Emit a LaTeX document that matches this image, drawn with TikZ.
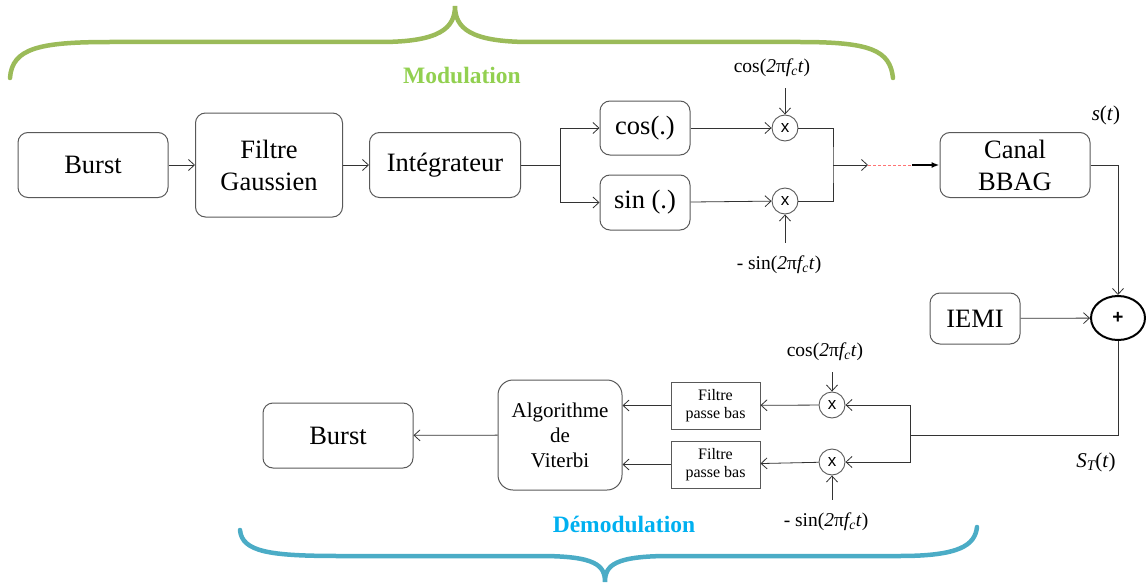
\documentclass[tikz,border=0pt]{standalone}
\usepackage{fontspec}
\setmainfont{Liberation Serif}
\newfontfamily\sansfont{Liberation Sans}
\usetikzlibrary{positioning, shapes.geometric, arrows.meta}
\definecolor{modgreen}{RGB}{146,208,80}
\definecolor{bracegreen}{RGB}{155,187,89}
\definecolor{demodblue}{RGB}{0,176,240}
\definecolor{braceblue}{RGB}{75,172,198}
\definecolor{boxgray}{RGB}{89,89,89}
\tikzstyle{block} = [rectangle, rounded corners=10pt, draw=boxgray, line width=1pt,
    align=center, font=\fontsize{26.5}{32}\selectfont]
\tikzstyle{lpfilter} = [rectangle, draw=boxgray, line width=1pt, minimum width=89pt,
    minimum height=47pt, align=center, font=\fontsize{16}{18}\selectfont]
\tikzstyle{mixer} = [circle, draw=boxgray, line width=0.9pt, minimum size=26pt,
    inner sep=0pt, font=\sansfont\fontsize{17}{17}\selectfont]
\tikzstyle{carrier} = [font=\fontsize{19.5}{21}\selectfont]
\tikzstyle{wire} = [line width=0.8pt, draw=black!80]
\tikzstyle{arrow} = [wire, -{Straight Barb[length=6pt,width=11pt]}]

\begin{document}
\begin{tikzpicture}[x=1pt, y=-1pt, node distance=176pt]
            \useasboundingbox (0,0) rectangle (1146,586);
            % Modulation chain
            \node[block, minimum width=150pt, minimum height=65pt] (burstA) at (93,165) {Burst};
            \node[block, minimum width=147pt, minimum height=104pt, right of=burstA] (gauss) {Filtre\\Gaussien};
            \node[block, minimum width=151pt, minimum height=65pt, right of=gauss] (integ) {Intégrateur};
            \node[block, minimum width=90pt, minimum height=54pt] (cosb) at (645,128) {cos(.)};
            \node[block, minimum width=90pt, minimum height=55pt] (sinb) at (645,202.5) {sin (.)};
            \node[mixer] (mA) at (785,128) {x};
            \node[mixer] (mB) at (785,201) {x};
            \node[carrier] (cosA) at (772,68) {cos(\textit{2}π\textit{f\textsubscript{c}t})};
            \node[carrier] (sinA) at (779,265) {- sin(\textit{2}π\textit{f\textsubscript{c}t})};
            \node[block, minimum width=150pt, minimum height=65pt] (canal) at (1015,165) {Canal\\BBAG};
            \node[carrier, font=\fontsize{21}{22}\selectfont] (st) at (1106,115) {\textit{s}(\textit{t})};
            % Channel
            \node[ellipse, draw=black, line width=2pt, minimum width=54pt, minimum height=44pt,
            inner sep=0pt, font=\sansfont\bfseries\fontsize{19}{19}\selectfont] (plus) at (1118,318) {+};
            \node[block, minimum width=90pt, minimum height=51pt] (iemi) at (975,318.5) {IEMI};
            % Demodulation chain
            \node[mixer] (mC) at (832,405) {x};
            \node[mixer] (mD) at (832,462) {x};
            \node[carrier] (cosB) at (825,352) {cos(\textit{2}π\textit{f\textsubscript{c}t})};
            \node[carrier] (sinB) at (826,522) {- sin(\textit{2}π\textit{f\textsubscript{c}t})};
            \node[lpfilter] (lpA) at (715.5,405.5) {Filtre\\passe bas};
            \node[lpfilter] (lpB) at (715.5,464.5) {Filtre\\passe bas};
            \node[block, rounded corners=15pt, minimum width=124pt, minimum height=110pt,
            font=\fontsize{21}{25}\selectfont] (viterbi) at (560,435) {Algorithme\\de\\Viterbi};
            \node[block, minimum width=150pt, minimum height=65pt] (burstB) at (338,435.5) {Burst};
            \node[carrier, font=\fontsize{21}{22}\selectfont] (stT) at (1096,462) {\textit{S\textsubscript{T}}(\textit{t})};
            % Braces
            \node[font=\bfseries\fontsize{23.5}{24}\selectfont, text=modgreen] (modlabel) at (462,75) {Modulation};
            \node[font=\bfseries\fontsize{23.5}{24}\selectfont, text=demodblue] (demodlabel) at (624,524) {Démodulation};
            \draw[bracegreen, line width=4.5pt, line cap=round] (10,78) .. controls (12,48) and (40,42) .. (110,42)
            -- (380,42) .. controls (440,42) and (455,28) .. (455,6) .. controls (455,28) and (470,42) .. (530,42)
            -- (800,42) .. controls (870,42) and (890,50) .. (893,78);
            \draw[braceblue, line width=4.5pt, line cap=round] (240,530) .. controls (242,552) and (270,556) .. (340,556)
            -- (540,556) .. controls (595,556) and (605,565) .. (605,582) .. controls (605,565) and (615,556) .. (670,556)
            -- (900,556) .. controls (960,556) and (975,545) .. (977,527);
            % Junctions
            \coordinate (split) at (560,165);
            \coordinate (join) at (833,165);
            \coordinate (dashA) at (868,165);
            \coordinate (dashB) at (912,165);
            \coordinate (bend) at (1118,435);
            \coordinate (splitB) at (910,435);
            % Arrows
            \draw[arrow] (burstA) -- (gauss);
            \draw[arrow] (gauss) -- (integ);
            \draw[wire] (integ) -- (split);
            \draw[arrow] (split) |- (cosb);
            \draw[arrow] (split) |- (sinb);
            \draw[arrow] (cosb) -- (mA);
            \draw[arrow] (sinb) -- (mB);
            \draw[arrow, shorten <=8pt] (mA |- cosA.south) -- (mA);
            \draw[arrow, shorten <=10pt] (mB |- sinA.north) -- (mB);
            \draw[wire] (mA.east) -| (join) |- (mB.east);
            \draw[arrow] (join) -- (dashA);
            \draw[red!55, dash pattern=on 3pt off 2pt, line width=1pt] (dashA) -- (dashB);
            \draw[line width=1.6pt, -{Latex[length=8pt]}] (dashB) -- (canal);
            \draw[arrow] (canal) -| (plus);
            \draw[arrow] (iemi) -- (plus);
            \draw[wire] (plus) -- (bend) -- (splitB);
            \draw[arrow] (splitB) |- (mC);
            \draw[arrow] (splitB) |- (mD);
            \draw[arrow, shorten <=8pt] (mC |- cosB.south) -- (mC);
            \draw[arrow, shorten <=10pt] (mD |- sinB.north) -- (mD);
            \draw[arrow] (mC) -- (lpA);
            \draw[arrow] (mD) -- (lpB);
            \draw[arrow] (lpA.west) -- (lpA.west -| viterbi.east);
            \draw[arrow] (lpB.west) -- (lpB.west -| viterbi.east);
            \draw[arrow] (viterbi) -- (burstB);
        \end{tikzpicture}
\end{document}
